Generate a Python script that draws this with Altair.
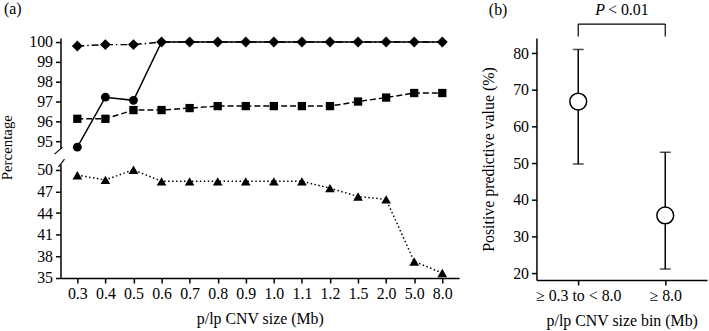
import altair as alt
import pandas as pd

FONT = "Liberation Serif"
FS = 16

# ---------------- data: panel (a) ----------------
sizes = ["0.3", "0.4", "0.5", "0.6", "0.7", "0.8", "0.9", "1.0", "1.1", "1.2", "1.5", "2.0", "5.0", "8.0"]
diamond_vals = [99.8, 99.87, 99.87, 100, 100, 100, 100, 100, 100, 100, 100, 100, 100, 100]
circle_vals = [94.7, 97.22, 97.06, 100, 100, 100, 100, 100, 100, 100, 100, 100, 100, 100]
square_vals = [96.13, 96.13, 96.57, 96.57, 96.67, 96.77, 96.77, 96.77, 96.77, 96.77, 97.0, 97.2, 97.43, 97.43]
triangle_vals = [49.25, 48.6, 50.0, 48.4, 48.4, 48.4, 48.4, 48.4, 48.4, 47.45, 46.3, 45.9, 37.3, 35.7]

top_ticks = [95, 96, 97, 98, 99, 100]
bottom_ticks = [35, 38, 41, 44, 47, 50]

# ---------------- data: panel (b) ----------------
bins = ["≥ 0.3 to < 8.0", "≥ 8.0"]
ppv = [66.8, 35.8]
ppv_lo = [49.8, 21.2]
ppv_hi = [81.0, 53.0]
b_ticks = [20, 30, 40, 50, 60, 70, 80]

panel_labels = ["(a)", "(b)"]
p_label = ["P", "< 0.01"]

df_d = pd.DataFrame({"size": sizes, "value": diamond_vals})
df_c = pd.DataFrame({"size": sizes, "value": circle_vals})
df_s = pd.DataFrame({"size": sizes, "value": square_vals})
df_t = pd.DataFrame({"size": sizes, "value": triangle_vals})
df_b = pd.DataFrame({"bin": bins, "ppv": ppv, "lo": ppv_lo, "hi": ppv_hi})
one = pd.DataFrame({"k": [0]})

W_A = 402
H_TOP = 111
H_BOT = 115

xa_scale = alt.Scale(type="point", domain=sizes, padding=0.6)
top_y = alt.Scale(domain=[94.65, 100.2], nice=False, zero=False)
bot_y = alt.Scale(domain=[35, 50.8], nice=False, zero=False)

LW = 1.5


def series(df, yscale, shape, size, dash, with_axis, axis_opts, point_filter=None):
    x = alt.X("size:N", scale=xa_scale, sort=sizes,
              axis=alt.Axis(title="p/lp CNV size (Mb)", labelAngle=0, titlePadding=9) if with_axis else None)
    y = alt.Y("value:Q", scale=yscale, axis=axis_opts)
    line_kw = dict(color="black", strokeWidth=LW)
    if dash:
        line_kw["strokeDash"] = dash
    line = alt.Chart(df).mark_line(**line_kw).encode(x=x, y=y)
    pts = alt.Chart(df)
    if point_filter:
        pts = pts.transform_filter(point_filter)
    pts = pts.mark_point(shape=shape, filled=True, color="black", size=size, opacity=1).encode(x=x, y=y)
    return line, pts


top_axis = alt.Axis(values=top_ticks, title="Percentage", titleY=110, titleX=-46, titleFontSize=15)
d_line, d_pts = series(df_d, top_y, "diamond", 120, [7, 3, 1.5, 3], False, top_axis)
c_line, c_pts = series(df_c, top_y, "circle", 80, None, False, top_axis, "datum.value < 100")
s_line, s_pts = series(df_s, top_y, "square", 70, [6, 3], False, top_axis)

top_break = alt.Chart(one).mark_rule(color="black", strokeWidth=1.2).encode(
    x=alt.value(-6), x2=alt.value(2), y=alt.value(H_TOP + 6), y2=alt.value(H_TOP - 1))
a_label = alt.Chart(one).mark_text(text=panel_labels[0], font=FONT, fontSize=FS, color="black",
                                   align="left", baseline="middle").encode(
    x=alt.value(-57), y=alt.value(-29))

top = alt.layer(d_line, s_line, c_line, s_pts, c_pts, d_pts, top_break, a_label).properties(
    width=W_A, height=H_TOP)

bot_axis = alt.Axis(values=bottom_ticks, title=None)
t_line, t_pts = series(df_t, bot_y, "triangle-up", 95, [1.5, 2.5], True, bot_axis)
bot_break = alt.Chart(one).mark_rule(color="black", strokeWidth=1.2).encode(
    x=alt.value(-2), x2=alt.value(4), y=alt.value(3), y2=alt.value(-5))
bottom = alt.layer(t_line, t_pts, bot_break).properties(width=W_A, height=H_BOT)

panel_a = alt.vconcat(top, bottom, spacing=16, bounds="flush")

# ---------------- panel (b) ----------------
xb_scale = alt.Scale(type="point", domain=bins, padding=0.48)
b_y = alt.Scale(domain=[18.2, 84.1], nice=False, zero=False)
xb = alt.X("bin:N", scale=xb_scale, sort=bins,
           axis=alt.Axis(title="p/lp CNV size bin (Mb)", labelAngle=0, titlePadding=9))

err = alt.Chart(df_b).mark_rule(color="black", strokeWidth=LW).encode(
    x=xb, y=alt.Y("lo:Q", scale=b_y,
                  axis=alt.Axis(values=b_ticks, title="Positive predictive value (%)", titlePadding=16)),
    y2="hi:Q")
cap_lo = alt.Chart(df_b).mark_tick(color="black", thickness=LW, size=11).encode(x=xb, y=alt.Y("lo:Q", scale=b_y))
cap_hi = alt.Chart(df_b).mark_tick(color="black", thickness=LW, size=11).encode(x=xb, y=alt.Y("hi:Q", scale=b_y))
dots = alt.Chart(df_b).mark_point(shape="circle", filled=True, fill="white", stroke="black",
                                  strokeWidth=LW, size=290, opacity=1).encode(
    x=xb, y=alt.Y("ppv:Q", scale=b_y))

bracket_df = pd.DataFrame({"a": [bins[0]], "b": [bins[1]], "lvl": [87.9], "foot": [84.5], "lab": [91.6]})
br_h = alt.Chart(bracket_df).mark_rule(color="black", strokeWidth=1.2).encode(
    x=alt.X("a:N", scale=xb_scale), x2="b:N", y=alt.Y("lvl:Q", scale=b_y))
br_l = alt.Chart(bracket_df).mark_rule(color="black", strokeWidth=1.2).encode(
    x=alt.X("a:N", scale=xb_scale), y=alt.Y("foot:Q", scale=b_y), y2="lvl:Q")
br_r = alt.Chart(bracket_df).mark_rule(color="black", strokeWidth=1.2).encode(
    x=alt.X("b:N", scale=xb_scale), y=alt.Y("foot:Q", scale=b_y), y2="lvl:Q")
p_txt = alt.Chart(bracket_df).mark_text(text=p_label[0], font=FONT, fontSize=FS, fontStyle="italic",
                                        align="right", baseline="middle", dx=27, color="black").encode(
    x=alt.X("a:N", scale=xb_scale), y=alt.Y("lab:Q", scale=b_y))
p_txt2 = alt.Chart(bracket_df).mark_text(text=p_label[1], font=FONT, fontSize=FS,
                                         align="left", baseline="middle", dx=30, color="black").encode(
    x=alt.X("a:N", scale=xb_scale), y=alt.Y("lab:Q", scale=b_y))
b_label = alt.Chart(one).mark_text(text=panel_labels[1], font=FONT, fontSize=FS, color="black",
                                   align="left", baseline="middle").encode(
    x=alt.value(-48), y=alt.value(-28))

panel_b = alt.layer(err, cap_lo, cap_hi, dots, br_h, br_l, br_r, p_txt, p_txt2, b_label).properties(
    width=172, height=244)

chart = alt.hconcat(panel_a, panel_b, spacing=22).properties(
    padding={"left": 0, "top": 0, "right": 2, "bottom": 0}
).configure_view(stroke=None).configure_axis(
    labelFont=FONT, titleFont=FONT, labelFontSize=FS, titleFontSize=FS,
    labelColor="black", titleColor="black", titleFontWeight="normal",
    domainColor="black", tickColor="black", domainWidth=1.5, tickWidth=1.5, tickSize=5,
    grid=False, labelPadding=3, titlePadding=8
).configure_concat(spacing=22)

chart.save("out.html", embed_options={"renderer": "svg", "actions": False})
